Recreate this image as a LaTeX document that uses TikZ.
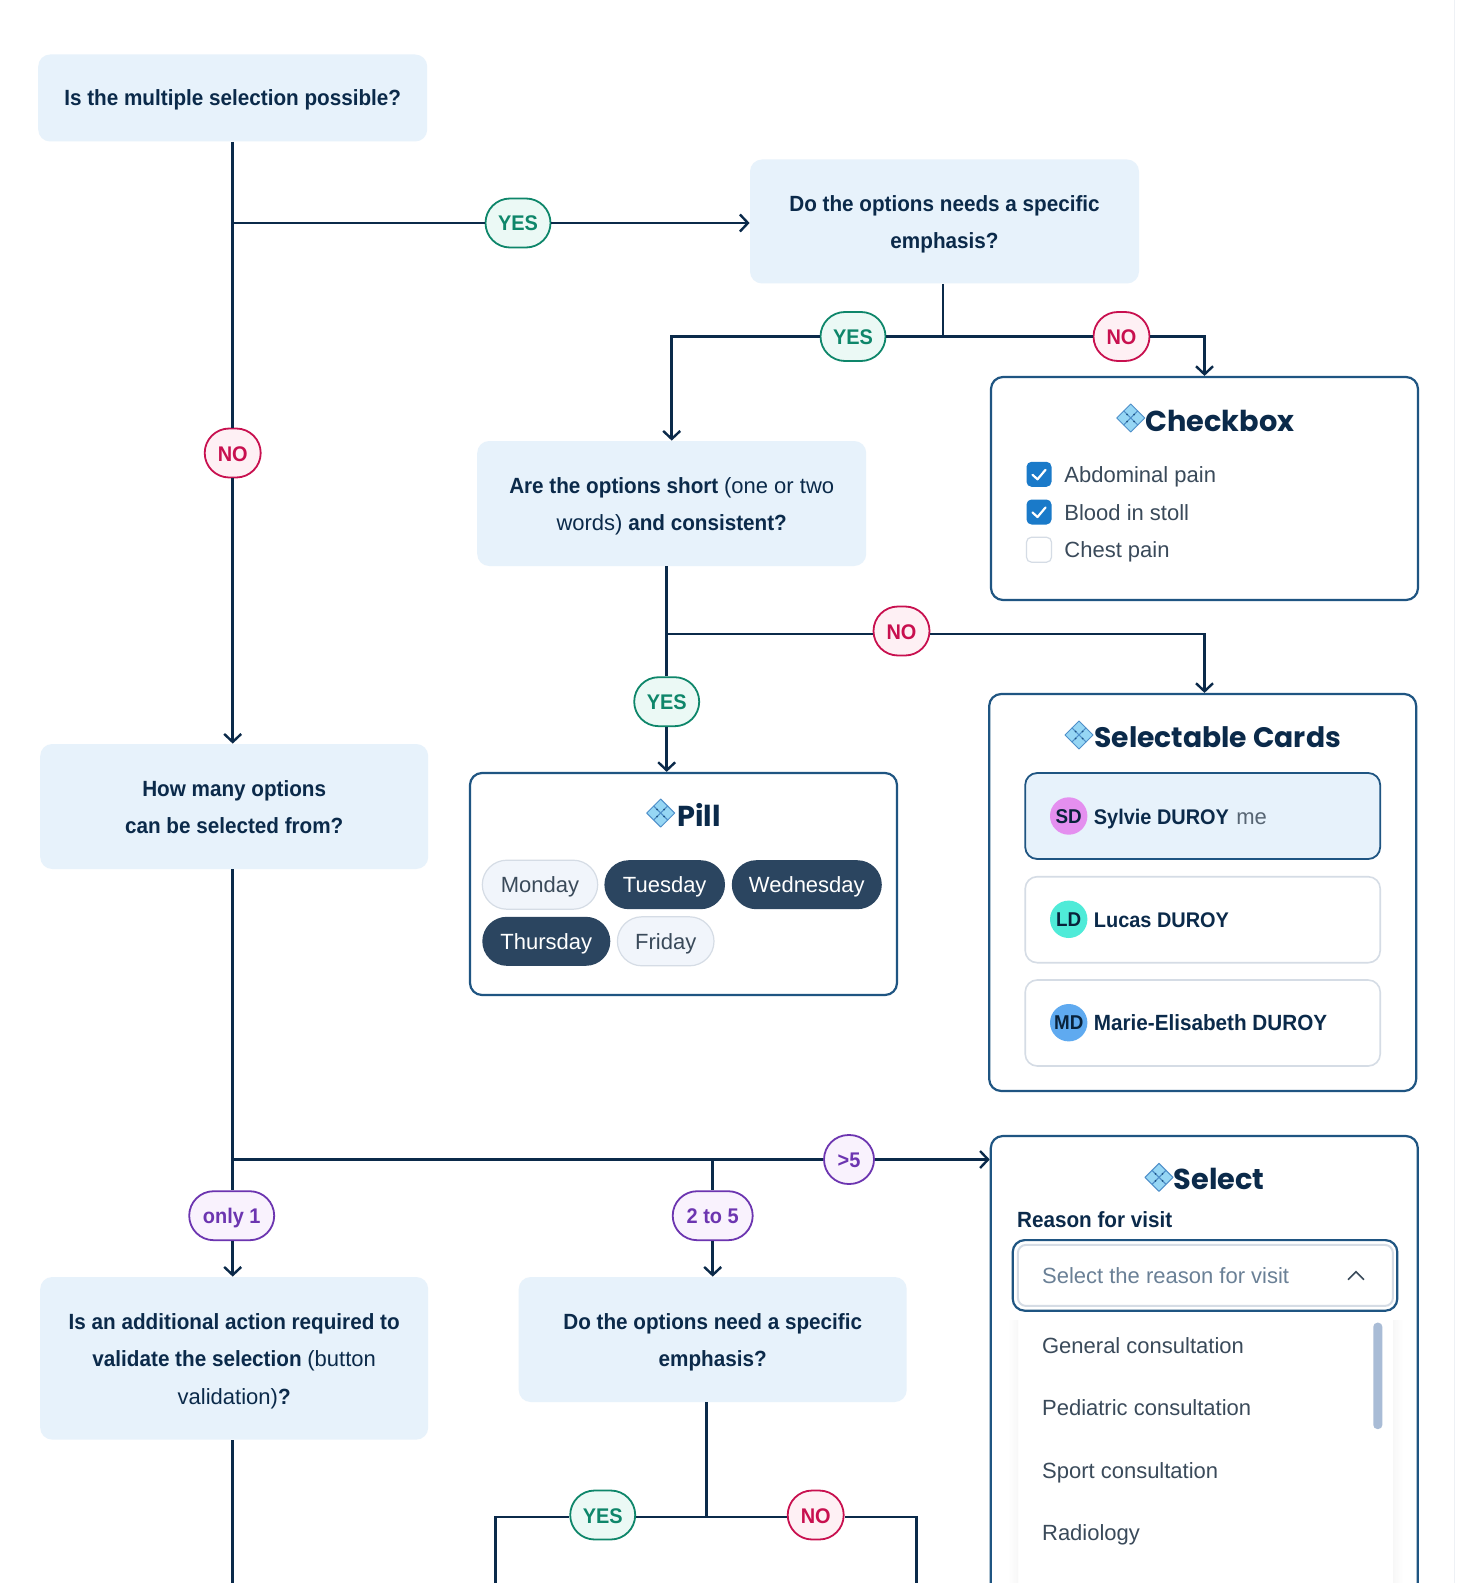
\documentclass[tikz,border=0pt]{standalone}
\usepackage{fontspec}
\setmainfont[BoldFeatures={FakeStretch=0.94}]{Liberation Sans}
\newfontfamily\titlefont{Poppins}
\usetikzlibrary{arrows.meta,shapes.misc}
\definecolor{navy}{RGB}{11, 42, 74}
\definecolor{framec}{RGB}{31, 85, 130}
\definecolor{qblue}{RGB}{231, 242, 251}
\definecolor{yesc}{RGB}{14, 134, 106}
\definecolor{yesfill}{RGB}{235, 249, 245}
\definecolor{noc}{RGB}{200, 16, 79}
\definecolor{nofill}{RGB}{254, 240, 244}
\definecolor{purp}{RGB}{108, 53, 176}
\definecolor{purpfill}{RGB}{249, 242, 253}
\definecolor{slate}{RGB}{58, 74, 90}
\definecolor{pilldark}{RGB}{43, 69, 96}
\definecolor{pilllight}{RGB}{241, 245, 251}
\definecolor{softline}{RGB}{213, 220, 229}
\definecolor{tickblue}{RGB}{26, 122, 201}
\definecolor{gemlight}{RGB}{150, 214, 244}
\definecolor{gemedge}{RGB}{78, 143, 201}
\definecolor{avatarsd}{RGB}{228, 143, 239}
\definecolor{avatarld}{RGB}{79, 235, 216}
\definecolor{avatarmd}{RGB}{95, 170, 240}
\definecolor{hintc}{RGB}{106, 128, 150}
\definecolor{scrollc}{RGB}{169, 188, 214}
\newcommand{\qtop}{\rule{0pt}{10.7pt}}
\newcommand{\gem}[2]{
  \foreach \dx/\dy in {0/-7, -7/0, 7/0, 0/7}
    \filldraw[gemedge, fill=gemlight, line width=.5pt, line join=round]
      (#1+\dx,#2+\dy-7) -- (#1+\dx+7,#2+\dy) -- (#1+\dx,#2+\dy+7) -- (#1+\dx-7,#2+\dy) -- cycle;
  \foreach \dx/\dy in {-3.5/-3.5, 3.5/-3.5, -3.5/3.5, 3.5/3.5}
    \fill[framec] (#1+\dx,#2+\dy) circle (.5pt);
}
\tikzset{
  flow/.style={draw=navy, line width=1.4pt},
  flowarrow/.style={flow, -{Straight Barb[length=4pt,width=8.5pt,line width=1.2pt]}},
  qbox/.style={fill=qblue, rounded corners=6pt, inner sep=0pt, align=center, text=navy,
    font=\bfseries\fontsize{11}{18.75}\selectfont,
    execute at begin node=\rule{0pt}{10pt}, execute at end node=\rule[-2.2pt]{0pt}{2.2pt}},
  compframe/.style={draw=framec, fill=white, line width=1.1pt, rounded corners=6pt, inner sep=0pt},
  badge/.style={rounded rectangle, line width=.9pt, inner sep=0pt, minimum height=24.5pt,
    text height=10pt, text depth=2pt, font=\bfseries\fontsize{10.6}{13}\selectfont},
  yesbadge/.style={badge, draw=yesc, fill=yesfill, text=yesc, minimum width=32.5pt},
  nobadge/.style={badge, draw=noc, fill=nofill, text=noc, minimum width=28pt},
  numbadge/.style={badge, draw=purp, fill=purpfill, text=purp},
  boxtitle/.style={inner sep=0pt, anchor=west, text=navy, font=\titlefont\bfseries\fontsize{14.4}{17}\selectfont},
  plain/.style={inner sep=0pt, anchor=west, text=slate, text height=10pt, text depth=2pt,
    font=\fontsize{11}{13}\selectfont},
  personname/.style={inner sep=0pt, anchor=west, text=navy, text height=10pt, text depth=2pt,
    font=\bfseries\fontsize{11}{13}\selectfont},
  shortname/.style={personname, font=\bfseries\fontsize{10.6}{13}\selectfont},
  tickbox/.style={rounded corners=2.5pt, minimum size=12.5pt, inner sep=0pt, fill=tickblue},
  daypill/.style={rounded rectangle, inner sep=0pt, minimum height=24.5pt, line width=.6pt,
    text height=10pt, text depth=2pt, font=\fontsize{11}{13}\selectfont},
  dayoff/.style={daypill, draw=softline, fill=pilllight, text=slate},
  dayon/.style={daypill, fill=pilldark, text=white},
  card/.style={rounded corners=6pt, inner sep=0pt, minimum width=177.5pt, minimum height=43pt},
  avatar/.style={circle, inner sep=0pt, minimum size=18.7pt, text=navy!80!black,
    text height=9pt, text depth=1.8pt, font=\bfseries\fontsize{10}{12}\selectfont},
}
\begin{document}
\begin{tikzpicture}[x=.5pt, y=-.5pt]
  \useasboundingbox (0,0) rectangle (1456,1583);
  \clip (0,0) rectangle (1456,1583);
  \fill[white] (0,0) rectangle (1456,1583);
  \draw[softline!40, line width=.5pt] (1454,0) -- (1454,1583);

  % questions
  \node[qbox, minimum width=194.5pt, minimum height=43.5pt] (multi) at (232.7,98) {Is the multiple selection possible?};
  \node[qbox, minimum width=194.5pt, minimum height=62pt] (emphasis) at (944.5,221.5) {\qtop Do the options needs a specific\\emphasis?};
  \node[qbox, minimum width=194.5pt, minimum height=62.5pt] (short) at (671.7,503.5) {\qtop Are the options short {\mdseries (one or two}\\{\mdseries words)} and consistent?};
  \node[qbox, minimum width=194pt, minimum height=62.5pt] (howmany) at (234.2,806.5) {\qtop How many options\\can be selected from?};
  \node[qbox, minimum width=194pt, minimum height=81.3pt] (action) at (234.2,1358.3) {\qtop Is an additional action required to\\validate the selection {\mdseries (button}\\{\mdseries validation)}?};
  \node[qbox, minimum width=194pt, minimum height=62.5pt] (emphasistwo) at (712.7,1339.5) {\qtop Do the options need a specific\\emphasis?};

  % component frames
  \node[compframe, minimum width=213.5pt, minimum height=111.5pt] (checkbox) at (1204.5,488.5) {};
  \node[compframe, minimum width=213.5pt, minimum height=111pt] (pill) at (683.5,884) {};
  \node[compframe, minimum width=213.5pt, minimum height=198.5pt] (cards) at (1202.7,892.5) {};
  \node[compframe, minimum width=213.5pt, minimum height=290pt] (select) at (1204.3,1426) {};

  % badges
  \node[yesbadge] (yesa) at (518,223) {YES};
  \node[nobadge] (noa) at (232.7,453) {NO};
  \node[yesbadge] (yesb) at (853,336.5) {YES};
  \node[nobadge] (nob) at (1121.5,336.5) {NO};
  \node[nobadge] (noc) at (901.5,631) {NO};
  \node[yesbadge] (yesc) at (666.7,701.7) {YES};
  \node[numbadge, minimum width=25pt] (many) at (849,1159.5) {>5};
  \node[numbadge, minimum width=42.5pt] (single) at (231.7,1215.7) {only 1};
  \node[numbadge, minimum width=40pt] (few) at (712.7,1215.7) {2 to 5};
  \node[yesbadge] (yesd) at (602.7,1515) {YES};
  \node[nobadge] (nod) at (815.7,1515) {NO};

  % junctions and free ends
  \coordinate (splitshort) at (666.7,634);
  \coordinate (splitemph) at (943,336.5);
  \coordinate (splittwo) at (706.7,1517);
  \coordinate (splitcount) at (232.7,1159.5);
  \coordinate (endaction) at (232.7,1583);
  \coordinate (endyes) at (495.7,1583);
  \coordinate (endno) at (916.6,1583);

  % connectors
  \draw[flow] (multi.south) -- (noa.north);
  \draw[flowarrow] (noa.south) -- (noa.south |- howmany.north);
  \draw[flow] (multi.south |- yesa.west) -- (yesa.west);
  \draw[flowarrow] (yesa.east) -- (emphasis.west |- yesa.east);
  \draw[flow] (splitemph |- emphasis.south) -- (splitemph);
  \draw[flow] (splitemph) -- (yesb.east);
  \draw[flow] (splitemph) -- (nob.west);
  \draw[flowarrow] (yesb.west) -| (short.north);
  \draw[flowarrow] (nob.east) -| (checkbox.north);
  \draw[flow] (splitshort |- short.south) -- (yesc.north);
  \draw[flowarrow] (yesc.south) -- (yesc.south |- pill.north);
  \draw[flow] (splitshort) -- (noc.west |- splitshort);
  \draw[flowarrow] (noc.east |- splitshort) -| (checkbox.south |- cards.north);
  \draw[flow] (multi.south |- howmany.south) -- (single.north -| multi.south);
  \draw[flowarrow] (single.south -| multi.south) -- (multi.south |- action.north);
  \draw[flow] (splitcount) -- (many.west);
  \draw[flowarrow] (many.east) -- (select.west |- many.east);
  \draw[flow] (few.north |- splitcount) -- (few.north);
  \draw[flowarrow] (few.south) -- (emphasistwo.north);
  \draw[flow] (multi.south |- action.south) -- (endaction);
  \draw[flow] (splittwo |- emphasistwo.south) -- (splittwo);
  \draw[flow] (yesd.east |- splittwo) -- (nod.west |- splittwo);
  \draw[flow] (yesd.west |- splittwo) -| (endyes);
  \draw[flow] (nod.east |- splittwo) -| (endno);

  % checkbox
  \gem{1130.7}{418}
  \node[boxtitle] (checkboxtitle) at (1145,420.7) {Checkbox};
  \node[tickbox] (ticka) at (1039,474.3) {};
  \node[tickbox] (tickb) at (1039,512) {};
  \node[tickbox, fill=white, draw=softline, line width=.6pt] (tickc) at (1039,549.7) {};
  \foreach \tickname in {ticka, tickb}
    \draw[white, line width=1.1pt, line cap=round, line join=round]
      ([shift={(-6.5,0.5)}]\tickname.center) -- ([shift={(-1.5,5)}]\tickname.center) -- ([shift={(6.5,-4.5)}]\tickname.center);
  \node[plain] (pain) at (1064,474.3) {Abdominal pain};
  \node[plain] (blood) at (1064,512) {Blood in stoll};
  \node[plain] (chest) at (1064,549.7) {Chest pain};

  % pill
  \gem{660.7}{813}
  \node[boxtitle] (pilltitle) at (676.7,815) {Pill};
  \node[dayoff, minimum width=57.7pt] (monday) at (540,884.7) {Monday};
  \node[dayon, minimum width=60.3pt] (tuesday) at (664.7,884.7) {Tuesday};
  \node[dayon, minimum width=75pt] (wednesday) at (806.8,884.7) {Wednesday};
  \node[dayon, minimum width=64pt] (thursday) at (546.3,941.3) {Thursday};
  \node[dayoff, minimum width=48.3pt] (friday) at (665.7,941.3) {Friday};

  % selectable cards
  \gem{1079}{735}
  \node[boxtitle, font=\titlefont\bfseries\fontsize{14.1}{17}\selectfont] (cardstitle) at (1094,736.7) {Selectable Cards};
  \node[card, draw=framec, fill=qblue, line width=.9pt] (sylviecard) at (1202.7,816) {};
  \node[card, draw=softline, fill=white, line width=.8pt] (lucascard) at (1202.7,919.7) {};
  \node[card, draw=softline, fill=white, line width=.8pt] (mariecard) at (1202.7,1023) {};
  \node[avatar, fill=avatarsd] (sd) at (1068.7,816) {SD};
  \node[avatar, fill=avatarld] (ld) at (1068.7,919.3) {LD};
  \node[avatar, fill=avatarmd] (md) at (1068.7,1022.7) {MD};
  \node[shortname] (sylvie) at (1093.5,816) {Sylvie DUROY};
  \node[plain, text=slate!85] (me) at (1236,816) {me};
  \node[shortname] (lucas) at (1093.5,919.3) {Lucas DUROY};
  \node[personname] (marie) at (1093.5,1022.7) {Marie-Elisabeth DUROY};

  % select
  \gem{1159}{1177.3}
  \node[boxtitle] (selecttitle) at (1173.3,1179.3) {Select};
  \node[personname] (reason) at (1016.7,1219.3) {Reason for visit};
  \shade[left color=white, right color=black!3] (1008,1320) rectangle (1018,1583);
  \shade[left color=black!3, right color=white] (1393,1320) rectangle (1403,1583);
  \node[draw=framec, fill=white, rounded corners=6pt, line width=1.1pt, inner sep=0pt, minimum width=192.3pt, minimum height=35.3pt] (field) at (1205,1275.4) {};
  \node[draw=softline, rounded corners=4pt, line width=1pt, inner sep=0pt, minimum width=187.5pt, minimum height=30.5pt] (fieldinner) at (1205.4,1275.4) {};
  \node[plain, text=hintc] (placeholder) at (1041.7,1275.7) {Select the reason for visit};
  \coordinate (chevron) at (1356,1275.7);
  \draw[slate, line width=.8pt] ([shift={(-8,4)}]chevron) -- ([shift={(0,-4)}]chevron) -- ([shift={(8,4)}]chevron);
  \fill[scrollc, rounded corners=2pt] (1373.3,1322.7) rectangle (1382.3,1429);
  \node[plain] (general) at (1041.7,1345) {General consultation};
  \node[plain] (pediatric) at (1041.7,1407.3) {Pediatric consultation};
  \node[plain] (sport) at (1041.7,1470) {Sport consultation};
  \node[plain] (radiology) at (1041.7,1532.7) {Radiology};
\end{tikzpicture}
\end{document}
